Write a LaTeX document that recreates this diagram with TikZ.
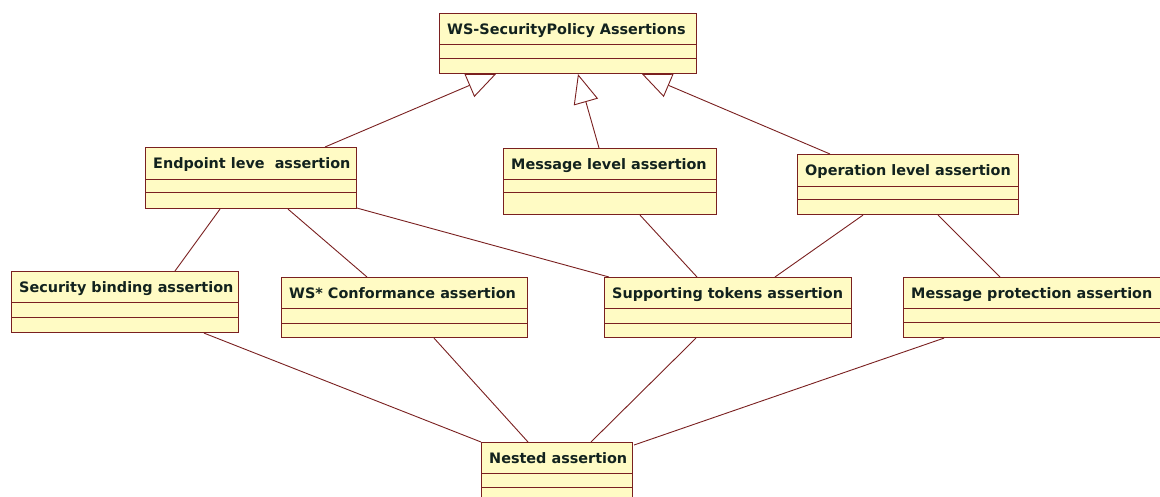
\documentclass[tikz,border=0pt]{standalone}
\usepackage{fontspec}
\setmainfont{DejaVu Sans}
\usetikzlibrary{arrows.meta,calc}

\definecolor{boxfill}{RGB}{255,251,196}
\definecolor{boxline}{RGB}{122,32,32}
\definecolor{labelink}{RGB}{18,34,30}

\tikzset{
  x=1pt, y=-1pt,
  classbox/.style={draw=boxline, fill=boxfill, line width=1.1pt, inner sep=0pt, anchor=north west},
  divider/.style={draw=boxline, line width=1pt},
  classname/.style={anchor=base west, inner sep=0pt, text=labelink,
    font=\fontsize{14.4}{16}\selectfont\bfseries},
  assoc/.style={draw=boxline, line width=0.9pt},
  generalize/.style={draw=boxline, line width=0.9pt,
    -{Triangle[open, length=29pt, width=25pt, line width=0.9pt]}},
}

% \classbox{name}{x}{y}{width}{height}{first divider}{second divider}{title}
\newcommand{\classbox}[8]{%
  \node[classbox, minimum width=#4pt, minimum height=#5pt] (#1) at (#2,#3) {};
  \draw[divider] ($(#1.north west)+(0,#6)$) -- ($(#1.north east)+(0,#6)$);
  \draw[divider] ($(#1.north west)+(0,#7)$) -- ($(#1.north east)+(0,#7)$);
  \node[classname] (#1-title) at ($(#1.north west)+(8,21.5)$) {#8};
}

\begin{document}
\begin{tikzpicture}
\useasboundingbox (0,0) rectangle (1160,497);
\clip (0,0) rectangle (1160,497);
\fill[white] (0,0) rectangle (1160,497);

% classes
\classbox{top}{439}{13}{257}{60}{32}{46}{WS-SecurityPolicy Assertions}
\classbox{ep}{145}{147}{211}{61}{33}{46}{Endpoint leve\ \ assertion}
\classbox{ml}{503}{148}{213}{66}{32}{45}{Message level assertion}
\classbox{ol}{797}{154}{221}{60}{33}{46}{Operation level assertion}
\classbox{sb}{11}{271}{227}{61}{32}{46}{Security binding assertion}
\classbox{ws}{281}{277}{246}{60}{32}{46}{WS* Conformance assertion}
\classbox{st}{604}{277}{247}{60}{32}{46}{Supporting tokens assertion}
\classbox{mp}{903}{277}{262}{60}{32}{45}{Message protection assertion}
\classbox{nest}{481}{442}{151}{64}{31}{45}{Nested assertion}

% generalizations towards the root
\draw[generalize] ($(ep.north west)+(180,0)$) -- ($(top.south west)+(57,0)$);
\draw[generalize] ($(ml.north west)+(96,0)$) -- ($(top.south west)+(139,0)$);
\draw[generalize] ($(ol.north west)+(33,0)$) -- ($(top.south west)+(203,0)$);

% associations
\draw[assoc] ($(ep.south west)+(75,0)$) -- ($(sb.north west)+(164,0)$);
\draw[assoc] ($(ep.south west)+(143,0)$) -- ($(ws.north west)+(86,0)$);
\draw[assoc] ($(ep.south east)+(0,-1)$) -- ($(st.north west)+(5,0)$);
\draw[assoc] ($(ml.south west)+(137,0)$) -- ($(st.north west)+(93,0)$);
\draw[assoc] ($(ol.south west)+(66,0)$) -- ($(st.north west)+(171,0)$);
\draw[assoc] ($(ol.south west)+(141,0)$) -- ($(mp.north west)+(97,0)$);

\draw[assoc] ($(sb.south west)+(193,0)$) -- (nest.north west);
\draw[assoc] ($(ws.south west)+(153,0)$) -- ($(nest.north west)+(47,0)$);
\draw[assoc] ($(st.south west)+(92,0)$) -- ($(nest.north west)+(110,0)$);
\draw[assoc] ($(mp.south west)+(41,0)$) -- ($(nest.north east)+(1,3)$);
\end{tikzpicture}
\end{document}
